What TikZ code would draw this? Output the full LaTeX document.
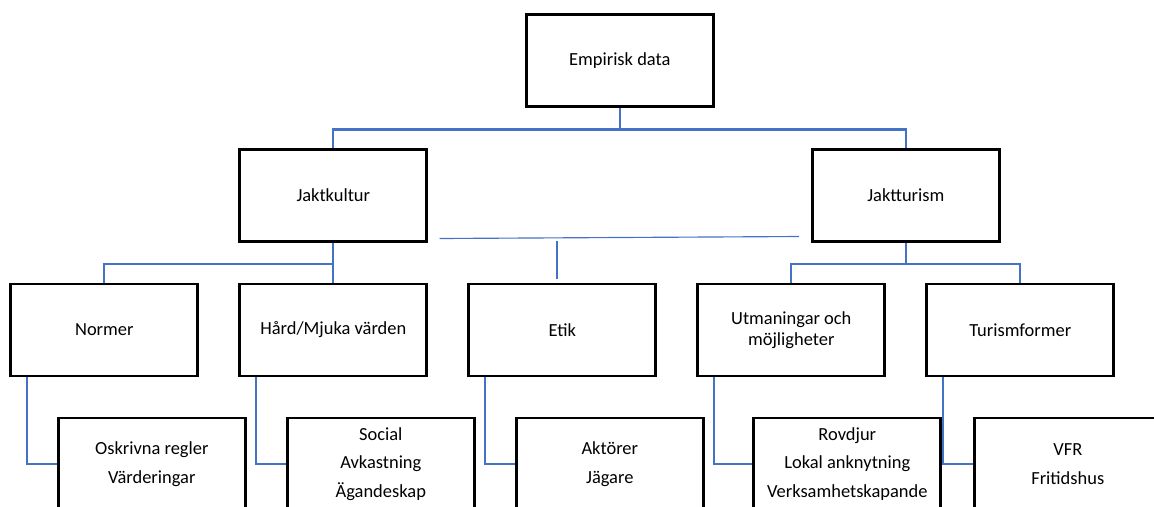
\documentclass[tikz,border=0pt]{standalone}
\usepackage{fontspec}
\setmainfont{Carlito}
\usetikzlibrary{positioning}
\definecolor{orgblue}{HTML}{4472C4}

\begin{document}
\begin{tikzpicture}[node distance = 2.69cm, on grid,
        box/.style = {draw, line width=1.65pt, minimum width=3.74cm, minimum height=1.84cm,
            align=center, font=\fontsize{10.5}{12.1}\selectfont},
        leaf/.style = {box, font=\fontsize{10.5}{16.2}\selectfont},
        link/.style = {draw=orgblue, line width=1.35pt},
        thinlink/.style = {draw=orgblue, line width=0.65pt}]
        \useasboundingbox (0,0) rectangle (23.08,-10.12);

        \node (empiri) [box] at (12.396,-1.21) {Empirisk data};
        \node (jaktkultur) [box, below left = 2.70cm and 5.73cm of empiri] {Jaktkultur};
        \node (jaktturism) [box, below right = 2.70cm and 5.72cm of empiri] {Jaktturism};

        \node (hard) [box, below = of jaktkultur] {Hård/Mjuka värden};
        \node (normer) [box, left = 4.58cm of hard] {Normer};
        \node (etik) [box, right = 4.58cm of hard] {Etik};
        \node (utman) [box, right = 4.58cm of etik] {Utmaningar och\\möjligheter};
        \node (turism) [box, right = 4.58cm of utman] {Turismformer};

        \node (oskrivna) [leaf, below right = 2.68cm and 0.95cm of normer] {Oskrivna regler\\Värderingar};
        \node (social) [leaf, below right = 2.68cm and 0.95cm of hard] {Social\\Avkastning\\Ägandeskap};
        \node (aktorer) [leaf, below right = 2.68cm and 0.95cm of etik] {Aktörer\\Jägare};
        \node (rovdjur) [leaf, below right = 2.68cm and 1.12cm of utman] {Rovdjur\\Lokal anknytning\\Verksamhetskapande};
        \node (vfr) [leaf, below right = 2.68cm and 0.95cm of turism] {VFR\\Fritidshus};

        \draw[link] (empiri.south) -- ++(0,-0.43) -| (jaktkultur.north);
        \draw[link] (empiri.south) -- ++(0,-0.43) -| (jaktturism.north);
        \draw[link] (jaktkultur.south) -- ++(0,-0.42) -| (normer.north);
        \draw[link] (jaktkultur.south) -- (hard.north);
        \draw[link] (jaktturism.south) -- ++(0,-0.42) -| (utman.north);
        \draw[link] (jaktturism.south) -- ++(0,-0.42) -| (turism.north);

        \draw[link] ([xshift=0.35cm]normer.south west) |- (oskrivna.west);
        \draw[link] ([xshift=0.35cm]hard.south west) |- (social.west);
        \draw[link] ([xshift=0.35cm]etik.south west) |- (aktorer.west);
        \draw[link] ([xshift=0.35cm]utman.south west) |- (rovdjur.west);
        \draw[link] ([xshift=0.35cm]turism.south west) |- (vfr.west);

        % loose line between the two main boxes
        \coordinate (crossL) at (8.79,-4.77);
        \coordinate (crossR) at (15.98,-4.73);
        \coordinate (crossTop) at (11.14,-4.82);
        \coordinate (crossEnd) at (11.14,-5.57);
        \draw[thinlink] (crossL) -- (crossR);
        \draw[thinlink] (crossTop) -- (crossEnd);
    \end{tikzpicture}
\end{document}
